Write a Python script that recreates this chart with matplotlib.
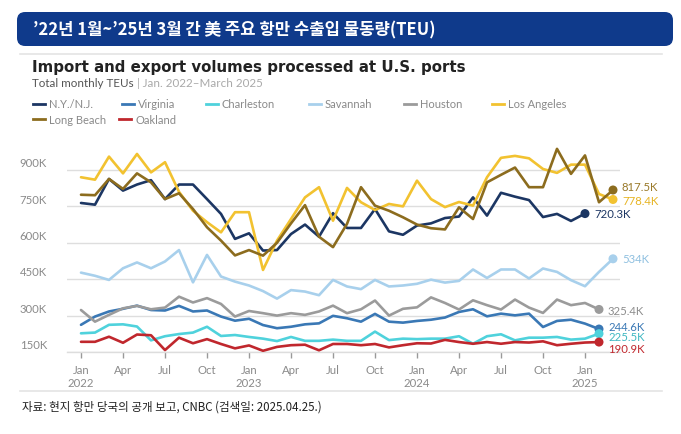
import matplotlib
matplotlib.use("Agg")
import matplotlib.pyplot as plt
from matplotlib.patches import FancyBboxPatch
from matplotlib.lines import Line2D
import matplotlib.transforms as mtransforms

# ---------------- data (thousand TEU) ----------------
month_labels = ["Jan", "Apr", "Jul", "Oct"]
years = ["2022", "2023", "2024", "2025"]
y_ticks = [150, 300, 450, 600, 750, 900]
y_tick_labels = ["150K", "300K", "450K", "600K", "750K", "900K"]

ny_nj = [764, 757, 863, 815, 840, 858, 780, 840, 840, 780, 719, 616, 639, 568,
         570, 636, 675, 625, 722, 661, 661, 739, 647, 633, 671, 680, 702, 708,
         787, 712, 806, 790, 776, 706, 719, 690, 720.3]
virginia = [262, 296, 317, 328, 341, 323, 321, 340, 317, 321, 296, 279, 287, 261,
            248, 254, 264, 268, 299, 289, 275, 307, 275, 271, 278, 283, 292, 315,
            326, 297, 308, 301, 308, 253, 278, 283, 267, 244.6]
charleston = [227, 230, 262, 264, 255, 198, 215, 224, 230, 254, 216, 220, 212, 205,
              195, 212, 196, 196, 201, 196, 196, 234, 199, 205, 203, 205, 205, 215,
              184, 215, 223, 198, 209, 209, 212, 201, 205, 225.5]
savannah = [477, 464, 447, 495, 519, 495, 523, 570, 437, 550, 461, 440, 424, 401,
            370, 405, 399, 384, 447, 420, 409, 447, 420, 424, 431, 448, 436, 443,
            490, 455, 490, 490, 453, 494, 480, 446, 421, 480, 534]
houston = [323, 275, 303, 330, 340, 326, 333, 378, 354, 372, 348, 296, 319, 310,
           300, 310, 303, 317, 341, 310, 326, 362, 300, 328, 334, 375, 352, 325,
           363, 343, 325, 366, 333, 311, 366, 343, 352, 325.4]
los_angeles = [870, 860, 955, 886, 966, 890, 932, 810, 732, 685, 643, 726, 726, 488,
               609, 698, 787, 829, 691, 826, 767, 735, 760, 750, 856, 780, 747, 768,
               753, 870, 950, 958, 948, 904, 888, 922, 922, 801, 778.4]
long_beach = [798, 796, 863, 822, 886, 849, 780, 804, 739, 664, 609, 548, 570, 547,
              600, 680, 755, 625, 582, 678, 829, 753, 732, 705, 675, 660, 655, 746,
              698, 849, 880, 910, 829, 829, 987, 884, 960, 767, 817.5]
oakland = [192, 192, 213, 188, 222, 219, 158, 209, 186, 203, 183, 165, 177, 155,
           171, 178, 180, 157, 183, 183, 178, 183, 169, 178, 186, 185, 200, 191,
           184, 191, 184, 191, 189, 194, 178, 184, 189, 190.9]

series = [
    ("N.Y./N.J.", ny_nj, "#1c3663", "#1c3663"),
    ("Virginia", virginia, "#3a78b5", "#3a78b5"),
    ("Charleston", charleston, "#4fd2dc", "#3fb8c2"),
    ("Savannah", savannah, "#a8d0ec", "#8fc0e0"),
    ("Houston", houston, "#9b9b9b", "#8d8d8d"),
    ("Los Angeles", los_angeles, "#f2c230", "#e7b422"),
    ("Long Beach", long_beach, "#8c6c1e", "#9a7a2a"),
    ("Oakland", oakland, "#c0272d", "#c0272d"),
]
# end-label offsets in pixels (dx, dy)
end_offsets = {
    "N.Y./N.J.": (9, 0), "Virginia": (9, 3), "Charleston": (9, -3),
    "Savannah": (9, 0), "Houston": (9, -1), "Los Angeles": (9, -1),
    "Long Beach": (9, 3), "Oakland": (9, -6),
}
end_text = {
    "N.Y./N.J.": "720.3K", "Virginia": "244.6K", "Charleston": "225.5K",
    "Savannah": "534K", "Houston": "325.4K", "Los Angeles": "778.4K",
    "Long Beach": "817.5K", "Oakland": "190.9K",
}

W, H = 681, 435
FONT = ["Lato", "DejaVu Sans"]
TFONT = ["DejaVu Sans"]
KFONT = ["Noto Sans CJK KR", "DejaVu Sans"]


def fx(x):
    return x / W


def fy(y):
    return 1 - y / H


fig = plt.figure(figsize=(W / 100, H / 100), dpi=100)
fig.patch.set_facecolor("white")

# ---------------- header bar ----------------
bar = FancyBboxPatch((fx(17), fy(47)), fx(656), 34 / H,
                     boxstyle="round,pad=0,rounding_size=0.012",
                     transform=fig.transFigure, facecolor="#0f3a8b",
                     edgecolor="none", mutation_aspect=W / H)
fig.add_artist(bar)
fig.text(fx(33), fy(30), "’22년 1월~’25년 3월 간 美 주요 항만 수출입 물동량(TEU)",
         family=KFONT, fontsize=12.0, color="white", fontweight="bold",
         va="center", ha="left")

# separator lines
fig.add_artist(Line2D([fx(20), fx(662)], [fy(55), fy(55)], color="#e4e4e4", lw=1.2))
fig.add_artist(Line2D([fx(20), fx(662)], [fy(392), fy(392)], color="#e4e4e4", lw=1.2))

# ---------------- chart titles ----------------
fig.text(fx(32), fy(68), "Import and export volumes processed at U.S. ports",
         family=TFONT, fontsize=10.8, fontweight="bold", color="#222222",
         va="center", ha="left")
t1 = fig.text(fx(32), fy(84), "Total monthly TEUs", family=FONT, fontsize=8.4,
              color="#555555", va="center", ha="left")
t2 = fig.text(0, 0, " | Jan. 2022–March 2025", family=FONT, fontsize=8.4,
              color="#a9a9a9", va="center", ha="left")
fig.canvas.draw()
bb = t1.get_window_extent()
t2.set_transform(mtransforms.IdentityTransform())
t2.set_position((bb.x1, (bb.y0 + bb.y1) / 2))

# ---------------- legend ----------------
legend_pos = {
    "N.Y./N.J.": (33, 105), "Virginia": (122, 105), "Charleston": (206, 105),
    "Savannah": (309, 105), "Houston": (404, 105), "Los Angeles": (492, 105),
    "Long Beach": (33, 120), "Oakland": (119, 120),
}
for name, vals, col, tcol in series:
    x0, y0 = legend_pos[name]
    fig.add_artist(Line2D([fx(x0), fx(x0 + 12)], [fy(y0), fy(y0)], color=col, lw=2))
    fig.text(fx(x0 + 16), fy(y0), name, family=FONT, fontsize=8.0,
             color="#8a8a8a", va="center", ha="left")

# ---------------- axes ----------------
ax = fig.add_axes([fx(67), fy(353), (620 - 67) / W, (353 - 146.7) / H])
ax.set_xlim(-1, 38.5)
ax.set_ylim(150, 1000)
for s in ["top", "right", "left"]:
    ax.spines[s].set_visible(False)
ax.spines["bottom"].set_color("#dddddd")
ax.spines["bottom"].set_linewidth(1)
ax.set_facecolor("white")

ax.set_yticks(y_ticks)
ax.set_yticklabels(y_tick_labels)
ax.yaxis.grid(True, color="#dedede", lw=1)
ax.set_axisbelow(True)
ax.tick_params(axis="y", length=0, pad=34, labelsize=8.2, labelcolor="#8a8a8a")
off = mtransforms.ScaledTranslation(0, 6 / 72, fig.dpi_scale_trans)
for lab in ax.get_yticklabels():
    lab.set_horizontalalignment("left")
    lab.set_family(FONT)
    lab.set_transform(lab.get_transform() + off)

xt = list(range(0, 37, 3))
xl = []
for m in xt:
    name = month_labels[(m // 3) % 4]
    if m % 12 == 0:
        name += "\n" + years[m // 12]
    xl.append(name)
ax.set_xticks(xt)
ax.set_xticklabels(xl, family=FONT, fontsize=8.2, color="#8a8a8a",
                   linespacing=1.15)
ax.tick_params(axis="x", length=4, width=1, color="#999999", pad=5)

for name, vals, col, tcol in series:
    x = list(range(len(vals)))
    ax.plot(x, vals, color=col, lw=1.9, solid_joinstyle="round",
            solid_capstyle="round", zorder=3)
    ax.scatter([x[-1]], [vals[-1]], s=42, color=col, zorder=4, edgecolors="none")
    dx, dy = end_offsets[name]
    ax.annotate(end_text[name], xy=(x[-1], vals[-1]), xytext=(dx, dy),
                textcoords="offset pixels", family=FONT, fontsize=8.2,
                color=tcol, va="center", ha="left", annotation_clip=False)

# ---------------- source ----------------
fig.text(fx(22), fy(407), "자료: 현지 항만 당국의 공개 보고, CNBC (검색일: 2025.04.25.)",
         family=KFONT, fontsize=8.3, color="#222222", va="center", ha="left")

fig.savefig("out.png", dpi=100, facecolor="white")
